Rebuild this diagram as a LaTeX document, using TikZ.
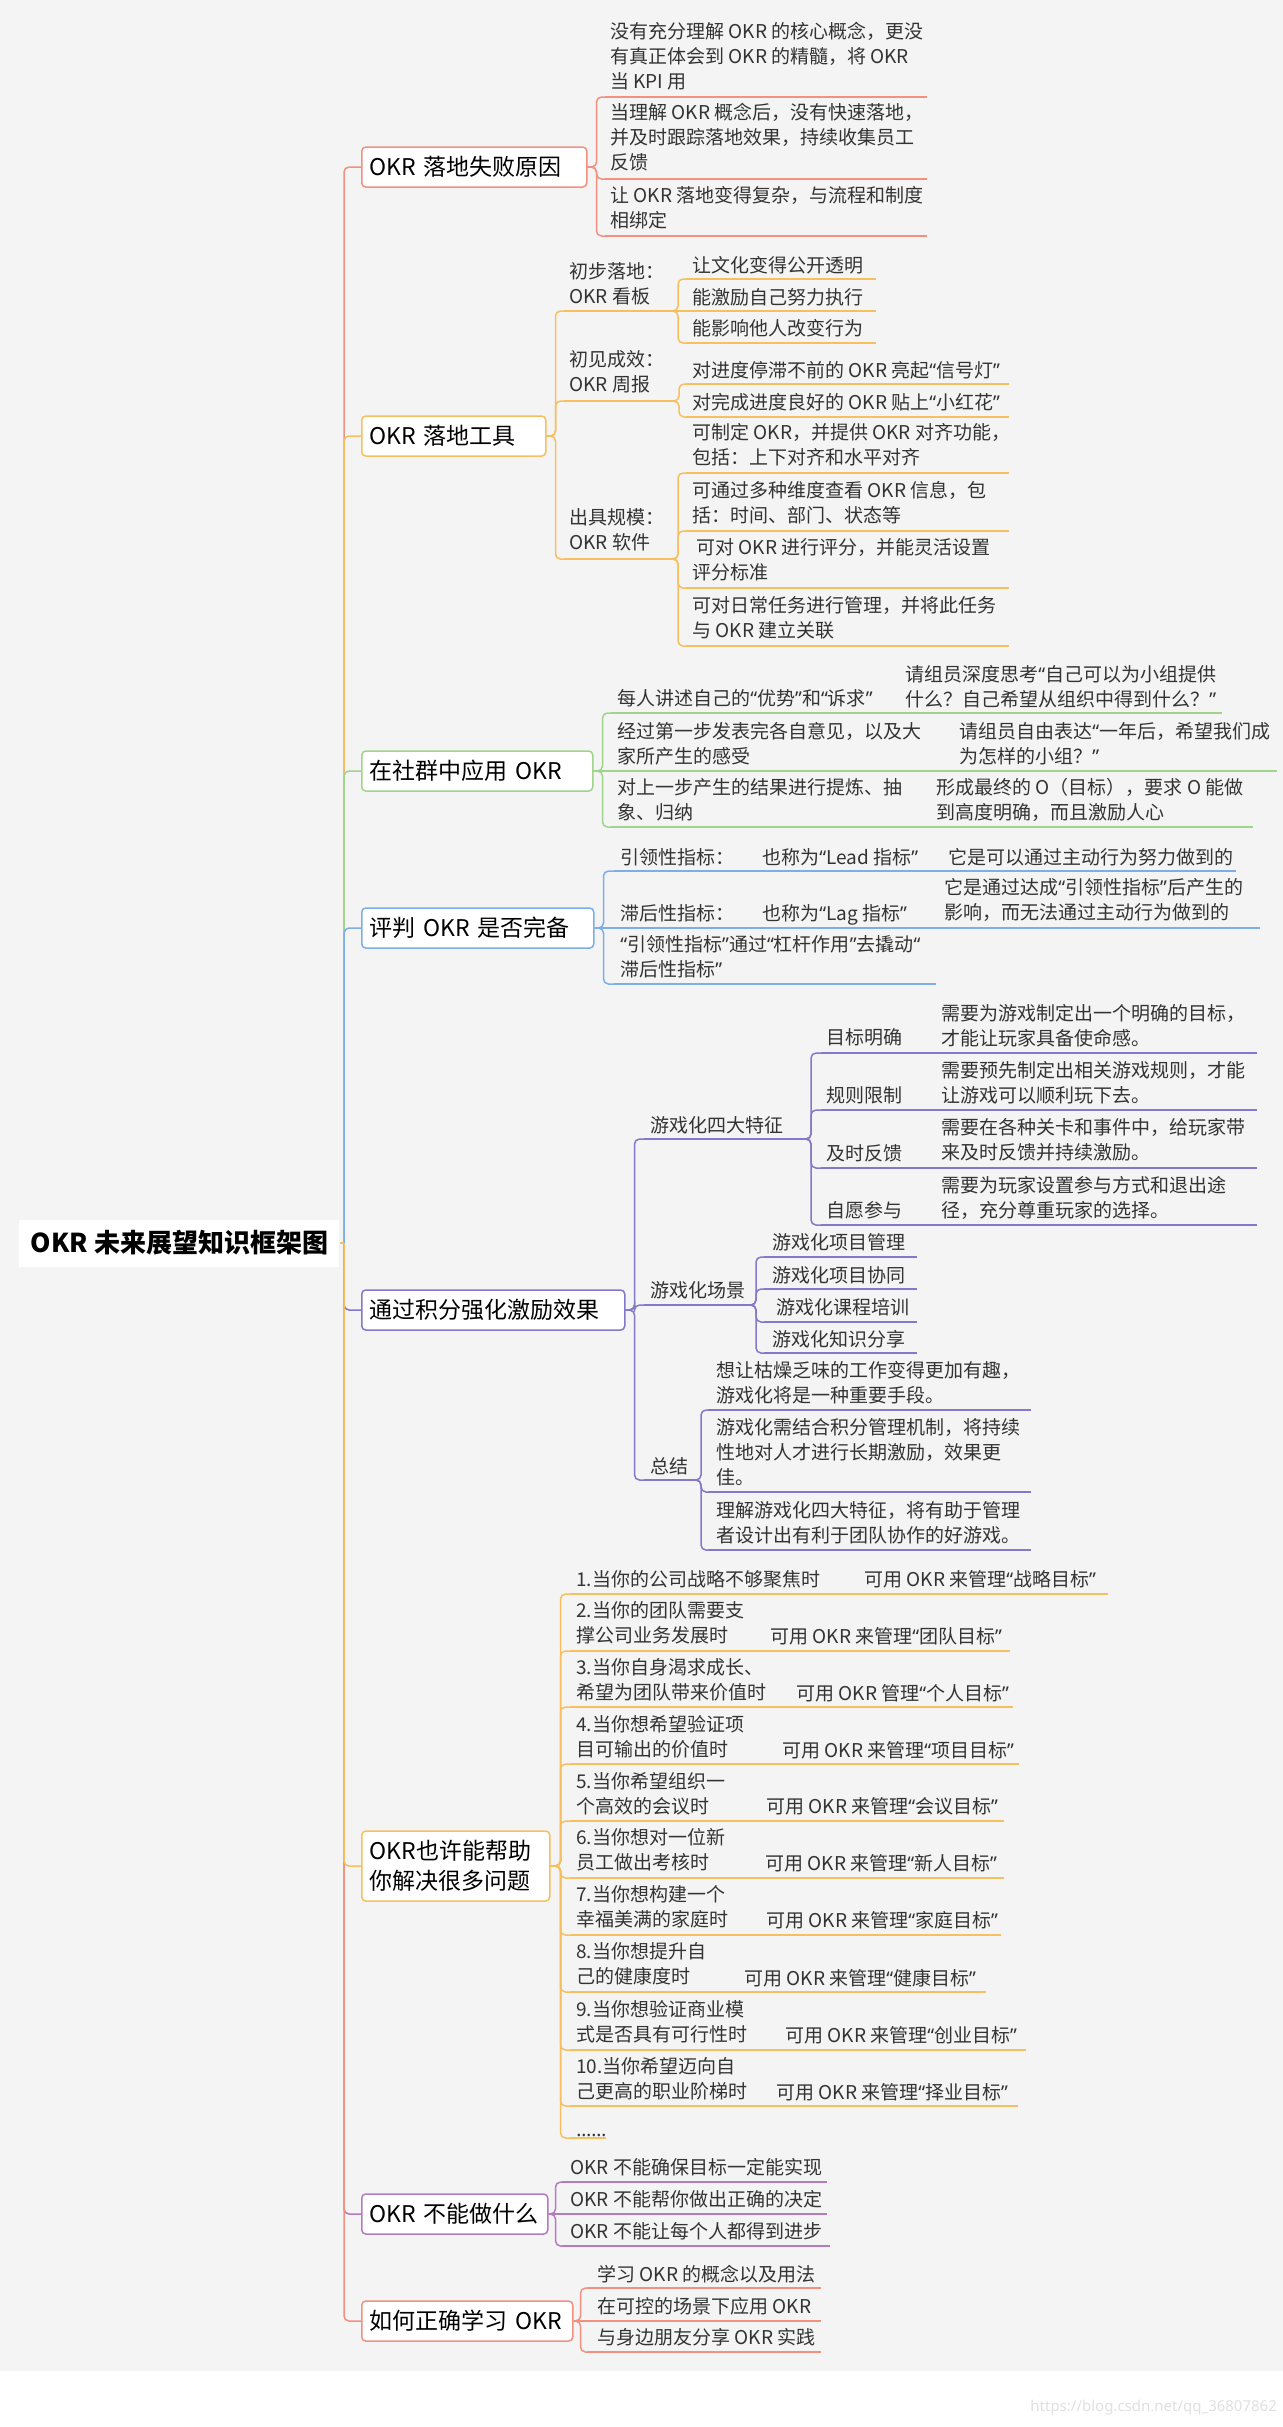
\documentclass[tikz,border=0pt]{standalone}
\usepackage{fontspec}
\setmainfont{Noto Sans CJK SC}
\newfontfamily\qfont{Noto Sans}
\newcommand\oq{{\qfont “}}
\newcommand\cq{{\qfont ”}}
\newcommand\moredots{{\qfont ……}}
\newcommand\leaffont{\fontsize{9.5}{12.5}\selectfont}
\newcommand\boxfont{\fontsize{11.5}{15}\selectfont}
\newcommand\rootfont{\fontsize{13}{16}\selectfont\bfseries}

\definecolor{bg}{HTML}{F4F4F4}
\definecolor{ink}{HTML}{333333}
\definecolor{cred}{HTML}{F3907F}
\definecolor{corange}{HTML}{F7BF5E}
\definecolor{cgreen}{HTML}{9FD48A}
\definecolor{cblue}{HTML}{7DAEE8}
\definecolor{cpurple}{HTML}{8478C8}
\definecolor{corchid}{HTML}{B47CC0}

\tikzset{
  txt/.style={anchor=north west, inner sep=0pt, align=left, yshift=5.15pt, font=\leaffont, text=ink, execute at begin node=\strut},
  topic/.style={draw=#1, fill=white, rounded corners=2pt, line width=0.75pt, anchor=west, minimum height=20pt, inner xsep=4pt, inner ysep=0pt, align=left, font=\boxfont, text=black},
  rootbox/.style={fill=white, anchor=west, minimum width=160pt, minimum height=23.5pt, inner sep=0pt, font=\rootfont, text=black},
  link/.style={draw=#1, line width=0.75pt, rounded corners=2.5pt},
  uline/.style={draw=#1, line width=0.75pt},
}

\begin{document}
\begin{tikzpicture}[x=0.5pt,y=-0.5pt]
        \useasboundingbox (0,0) rectangle (1283,2427);
        \fill[white] (0,0) rectangle (1283,2427);
        \fill[bg] (0,0) rectangle (1283,2371);

        \node[rootbox] (root) at (19,1243) {OKR 未来展望知识框架图};
        \coordinate (spine) at (344,1243);

        \node[topic=cred, text width=104.5pt] (fail) at (361,167) {OKR 落地失败原因};
        \node[topic=corange, text width=84pt] (tool) at (361,436) {OKR 落地工具};
        \node[topic=cgreen, text width=107.5pt] (comm) at (361,771) {在社群中应用 OKR};
        \node[topic=cblue, text width=108pt] (judge) at (361,928) {评判 OKR 是否完备};
        \node[topic=cpurple, text width=123.5pt] (game) at (361,1310) {通过积分强化激励效果};
        \node[topic=corange, text width=86pt, minimum height=35pt] (help) at (361,1866) {OKR也许能帮助\\你解决很多问题};
        \node[topic=corchid, text width=88pt, inner xsep=2.5pt] (cannot) at (361,2214) {\hspace{1.5pt}OKR 不能做什么};
        \node[topic=cred, text width=97.5pt] (learn) at (361,2321) {如何正确学习 OKR};

        \draw[link=cred] (spine) |- (fail.west);
        \draw[link=corange] (spine) |- (tool.west);
        \draw[link=cgreen] (spine) |- (comm.west);
        \draw[link=cblue] (spine) |- (judge.west);
        \draw[link=cpurple] (spine) |- (game.west);
        \draw[link=corchid] (spine) |- (cannot.west);
        \draw[link=cred] (spine) |- (learn.west);
        \draw[link=corange] (spine) |- (help.west);
        \draw[link=corange] (root.east) -- (spine);

        \coordinate (f1) at (605,97);
        \coordinate (f2) at (605,179);
        \coordinate (f3) at (605,236);
        \node[txt] (f1t) at (610,32) {没有充分理解 OKR 的核心概念，更没\\有真正体会到 OKR 的精髓，将 OKR\\当 KPI 用};
        \node[txt] (f2t) at (610,113) {当理解 OKR 概念后，没有快速落地，\\并及时跟踪落地效果，持续收集员工\\反馈};
        \node[txt] (f3t) at (610,196) {让 OKR 落地变得复杂，与流程和制度\\相绑定};
        \draw[uline=cred] (f1) -- ++(322,0);
        \draw[uline=cred] (f2) -- ++(322,0);
        \draw[uline=cred] (f3) -- ++(322,0);
        \draw[link=cred] (fail.east) -- ++(9,0) |- (f1);
        \draw[link=cred] (fail.east) -- ++(9,0) |- (f2);
        \draw[link=cred] (fail.east) -- ++(9,0) |- (f3);

        \coordinate (t1) at (564,311);
        \coordinate (t2) at (564,401);
        \coordinate (t3) at (564,559);
        \coordinate (t1e) at (671,311);
        \coordinate (t2e) at (674,401);
        \coordinate (t3e) at (671,559);
        \node[txt] (t1t) at (569,272) {初步落地：\\OKR 看板};
        \node[txt] (t2t) at (569,360) {初见成效：\\OKR 周报};
        \node[txt] (t3t) at (569,518) {出具规模：\\OKR 软件};
        \draw[uline=corange] (t1) -- (t1e);
        \draw[uline=corange] (t2) -- (t2e);
        \draw[uline=corange] (t3) -- (t3e);
        \draw[link=corange] (tool.east) -- ++(9,0) |- (t1);
        \draw[link=corange] (tool.east) -- ++(9,0) |- (t2);
        \draw[link=corange] (tool.east) -- ++(9,0) |- (t3);

        \coordinate (k1) at (686,279);
        \coordinate (k2) at (686,311);
        \coordinate (k3) at (686,343);
        \node[txt] (k1t) at (692,265) {让文化变得公开透明};
        \node[txt] (k2t) at (692,297) {能激励自己努力执行};
        \node[txt] (k3t) at (692,328) {能影响他人改变行为};
        \draw[uline=corange] (k1) -- ++(190,0);
        \draw[uline=corange] (k2) -- ++(190,0);
        \draw[uline=corange] (k3) -- ++(190,0);
        \draw[link=corange] (t1e) -- ++(7,0) |- (k1);
        \draw[link=corange] (t1e) -- (k2);
        \draw[link=corange] (t1e) -- ++(7,0) |- (k3);

        \coordinate (w1) at (686,384);
        \coordinate (w2) at (686,417);
        \node[txt] (w1t) at (692,370) {对进度停滞不前的 OKR 亮起\oq{}信号灯\cq{}};
        \node[txt] (w2t) at (692,402) {对完成进度良好的 OKR 贴上\oq{}小红花\cq{}};
        \draw[uline=corange] (w1) -- ++(323,0);
        \draw[uline=corange] (w2) -- ++(323,0);
        \draw[link=corange] (t2e) -- ++(5,0) |- (w1);
        \draw[link=corange] (t2e) -- ++(5,0) |- (w2);

        \coordinate (s1) at (686,473);
        \coordinate (s2) at (686,531);
        \coordinate (s3) at (686,588);
        \coordinate (s4) at (686,646);
        \node[txt] (s1t) at (692,433) {可制定 OKR，并提供 OKR 对齐功能，\\包括：上下对齐和水平对齐};
        \node[txt] (s2t) at (692,491) {可通过多种维度查看 OKR 信息，包\\括：时间、部门、状态等};
        \node[txt] (s3t) at (692,548) {\hspace{2pt}可对 OKR 进行评分，并能灵活设置\\评分标准};
        \node[txt] (s4t) at (692,606) {可对日常任务进行管理，并将此任务\\与 OKR 建立关联};
        \draw[uline=corange] (s1) -- ++(323,0);
        \draw[uline=corange] (s2) -- ++(323,0);
        \draw[uline=corange] (s3) -- ++(323,0);
        \draw[uline=corange] (s4) -- ++(323,0);
        \draw[link=corange] (t3e) -- ++(7,0) |- (s1);
        \draw[link=corange] (t3e) -- ++(7,0) |- (s2);
        \draw[link=corange] (t3e) -- ++(7,0) |- (s3);
        \draw[link=corange] (t3e) -- ++(7,0) |- (s4);

        \coordinate (c1) at (611,713);
        \coordinate (c2) at (611,771);
        \coordinate (c3) at (611,827);
        \node[txt] (c1t) at (617,698) {每人讲述自己的\oq{}优势\cq{}和\oq{}诉求\cq{}};
        \node[txt] (c1r) at (905,675) {请组员深度思考\oq{}自己可以为小组提供\\什么？自己希望从组织中得到什么？\cq{}};
        \node[txt] (c2t) at (617,732) {经过第一步发表完各自意见，以及大\\家所产生的感受};
        \node[txt] (c2r) at (959,732) {请组员自由表达\oq{}一年后，希望我们成\\为怎样的小组？\cq{}};
        \node[txt] (c3t) at (617,788) {对上一步产生的结果进行提炼、抽\\象、归纳};
        \node[txt] (c3r) at (936,788) {形成最终的 O（目标），要求 O 能做\\到高度明确，而且激励人心};
        \draw[uline=cgreen] (c1) -- (1222,713);
        \draw[uline=cgreen] (c2) -- (1277,771);
        \draw[uline=cgreen] (c3) -- (1253,827);
        \draw[link=cgreen] (comm.east) -- ++(9,0) |- (c1);
        \draw[link=cgreen] (comm.east) -- (c2);
        \draw[link=cgreen] (comm.east) -- ++(9,0) |- (c3);

        \coordinate (j1) at (614,871);
        \coordinate (j2) at (614,928);
        \coordinate (j3) at (614,984);
        \node[txt] (j1a) at (620,857) {引领性指标：};
        \node[txt] (j1b) at (762,857) {也称为\oq{}Lead 指标\cq{}};
        \node[txt] (j1c) at (948,857) {它是可以通过主动行为努力做到的};
        \node[txt] (j2a) at (620,913) {滞后性指标：};
        \node[txt] (j2b) at (762,913) {也称为\oq{}Lag 指标\cq{}};
        \node[txt] (j2c) at (944,888) {它是通过达成\oq{}引领性指标\cq{}后产生的\\影响，而无法通过主动行为做到的};
        \node[txt] (j3t) at (620,945) {\oq{}引领性指标\cq{}通过\oq{}杠杆作用\cq{}去撬动\oq{}\\滞后性指标\cq{}};
        \draw[uline=cblue] (j1) -- (1236,871);
        \draw[uline=cblue] (j2) -- (1260,928);
        \draw[uline=cblue] (j3) -- (936,984);
        \draw[link=cblue] (judge.east) -- ++(9,0) |- (j1);
        \draw[link=cblue] (judge.east) -- (j2);
        \draw[link=cblue] (judge.east) -- ++(9,0) |- (j3);

        \coordinate (g1) at (644,1139);
        \coordinate (g2) at (644,1305);
        \coordinate (g3) at (644,1480);
        \coordinate (g1e) at (803,1139);
        \coordinate (g2e) at (751,1305);
        \coordinate (g3e) at (695,1480);
        \node[txt] (g1t) at (650,1125) {游戏化四大特征};
        \node[txt] (g2t) at (650,1290) {游戏化场景};
        \node[txt] (g3t) at (650,1466) {总结};
        \draw[uline=cpurple] (g1) -- (g1e);
        \draw[uline=cpurple] (g2) -- (g2e);
        \draw[uline=cpurple] (g3) -- (g3e);
        \draw[link=cpurple] (game.east) -- ++(9,0) |- (g1);
        \draw[link=cpurple] (game.east) -- ++(9,0) |- (g2);
        \draw[link=cpurple] (game.east) -- ++(9,0) |- (g3);

        \coordinate (a1) at (821,1053);
        \coordinate (a2) at (821,1110);
        \coordinate (a3) at (821,1168);
        \coordinate (a4) at (821,1225);
        \node[txt] (a1t) at (826,1037) {目标明确};
        \node[txt] (a1r) at (941,1014) {需要为游戏制定出一个明确的目标，\\才能让玩家具备使命感。};
        \node[txt] (a2t) at (826,1095) {规则限制};
        \node[txt] (a2r) at (941,1071) {需要预先制定出相关游戏规则，才能\\让游戏可以顺利玩下去。};
        \node[txt] (a3t) at (826,1153) {及时反馈};
        \node[txt] (a3r) at (941,1128) {需要在各种关卡和事件中，给玩家带\\来及时反馈并持续激励。};
        \node[txt] (a4t) at (826,1210) {自愿参与};
        \node[txt] (a4r) at (941,1186) {需要为玩家设置参与方式和退出途\\径，充分尊重玩家的选择。};
        \draw[uline=cpurple] (a1) -- ++(436,0);
        \draw[uline=cpurple] (a2) -- ++(436,0);
        \draw[uline=cpurple] (a3) -- ++(436,0);
        \draw[uline=cpurple] (a4) -- ++(436,0);
        \draw[link=cpurple] (g1e) -- ++(8,0) |- (a1);
        \draw[link=cpurple] (g1e) -- ++(8,0) |- (a2);
        \draw[link=cpurple] (g1e) -- ++(8,0) |- (a3);
        \draw[link=cpurple] (g1e) -- ++(8,0) |- (a4);

        \coordinate (b1) at (764,1257);
        \coordinate (b2) at (764,1289);
        \coordinate (b3) at (764,1322);
        \coordinate (b4) at (764,1353);
        \node[txt] (b1t) at (772,1242) {游戏化项目管理};
        \node[txt] (b2t) at (772,1275) {游戏化项目协同};
        \node[txt] (b3t) at (772,1307) {\hspace{2pt}游戏化课程培训};
        \node[txt] (b4t) at (772,1339) {游戏化知识分享};
        \draw[uline=cpurple] (b1) -- ++(153,0);
        \draw[uline=cpurple] (b2) -- ++(153,0);
        \draw[uline=cpurple] (b3) -- ++(153,0);
        \draw[uline=cpurple] (b4) -- ++(153,0);
        \draw[link=cpurple] (g2e) -- ++(5,0) |- (b1);
        \draw[link=cpurple] (g2e) -- ++(5,0) |- (b2);
        \draw[link=cpurple] (g2e) -- ++(5,0) |- (b3);
        \draw[link=cpurple] (g2e) -- ++(5,0) |- (b4);

        \coordinate (d1) at (708,1410);
        \coordinate (d2) at (708,1492);
        \coordinate (d3) at (708,1550);
        \node[txt] (d1t) at (716,1371) {想让枯燥乏味的工作变得更加有趣，\\游戏化将是一种重要手段。};
        \node[txt] (d2t) at (716,1428) {游戏化需结合积分管理机制，将持续\\性地对人才进行长期激励，效果更\\佳。};
        \node[txt] (d3t) at (716,1511) {理解游戏化四大特征，将有助于管理\\者设计出有利于团队协作的好游戏。};
        \draw[uline=cpurple] (d1) -- ++(323,0);
        \draw[uline=cpurple] (d2) -- ++(323,0);
        \draw[uline=cpurple] (d3) -- ++(323,0);
        \draw[link=cpurple] (g3e) -- ++(6,0) |- (d1);
        \draw[link=cpurple] (g3e) -- ++(6,0) |- (d2);
        \draw[link=cpurple] (g3e) -- ++(6,0) |- (d3);

        \coordinate (h1) at (570,1594);
        \coordinate (h2) at (570,1651);
        \coordinate (h3) at (570,1707);
        \coordinate (h4) at (570,1764);
        \coordinate (h5) at (570,1821);
        \coordinate (h6) at (570,1878);
        \coordinate (h7) at (570,1935);
        \coordinate (h8) at (570,1992);
        \coordinate (h9) at (570,2050);
        \coordinate (h10) at (570,2106);
        \coordinate (h11) at (570,2138);
        \node[txt] (h1t) at (576,1579) {1.当你的公司战略不够聚焦时};
        \node[txt] (h1r) at (864,1579) {可用 OKR 来管理\oq{}战略目标\cq{}};
        \node[txt] (h2t) at (576,1611) {2.当你的团队需要支\\撑公司业务发展时};
        \node[txt] (h2r) at (770,1636) {可用 OKR 来管理\oq{}团队目标\cq{}};
        \node[txt] (h3t) at (576,1668) {3.当你自身渴求成长、\\希望为团队带来价值时};
        \node[txt] (h3r) at (796,1693) {可用 OKR 管理\oq{}个人目标\cq{}};
        \node[txt] (h4t) at (576,1725) {4.当你想希望验证项\\目可输出的价值时};
        \node[txt] (h4r) at (782,1750) {可用 OKR 来管理\oq{}项目目标\cq{}};
        \node[txt] (h5t) at (576,1782) {5.当你希望组织一\\个高效的会议时};
        \node[txt] (h5r) at (766,1806) {可用 OKR 来管理\oq{}会议目标\cq{}};
        \node[txt] (h6t) at (576,1838) {6.当你想对一位新\\员工做出考核时};
        \node[txt] (h6r) at (765,1863) {可用 OKR 来管理\oq{}新人目标\cq{}};
        \node[txt] (h7t) at (576,1895) {7.当你想构建一个\\幸福美满的家庭时};
        \node[txt] (h7r) at (766,1920) {可用 OKR 来管理\oq{}家庭目标\cq{}};
        \node[txt] (h8t) at (576,1952) {8.当你想提升自\\己的健康度时};
        \node[txt] (h8r) at (744,1978) {可用 OKR 来管理\oq{}健康目标\cq{}};
        \node[txt] (h9t) at (576,2010) {9.当你想验证商业模\\式是否具有可行性时};
        \node[txt] (h9r) at (785,2035) {可用 OKR 来管理\oq{}创业目标\cq{}};
        \node[txt] (h10t) at (576,2067) {10.当你希望迈向自\\己更高的职业阶梯时};
        \node[txt] (h10r) at (776,2092) {可用 OKR 来管理\oq{}择业目标\cq{}};
        \node[txt] (h11t) at (576,2129) {\moredots};
        \draw[uline=corange] (h1) -- (1108,1594);
        \draw[uline=corange] (h2) -- (1010,1651);
        \draw[uline=corange] (h3) -- (1013,1707);
        \draw[uline=corange] (h4) -- (1019,1764);
        \draw[uline=corange] (h5) -- (1004,1821);
        \draw[uline=corange] (h6) -- (1004,1878);
        \draw[uline=corange] (h7) -- (1001,1935);
        \draw[uline=corange] (h8) -- (986,1992);
        \draw[uline=corange] (h9) -- (1026,2050);
        \draw[uline=corange] (h10) -- (1018,2106);
        \draw[uline=corange] (h11) -- (606,2138);
        \foreach \i in {1,...,11}
                \draw[link=corange] (help.east) -- ++(10,0) |- (h\i);

        \coordinate (n1) at (562,2182);
        \coordinate (n2) at (562,2214);
        \coordinate (n3) at (562,2246);
        \node[txt] (n1t) at (570,2167) {OKR 不能确保目标一定能实现};
        \node[txt] (n2t) at (570,2199) {OKR 不能帮你做出正确的决定};
        \node[txt] (n3t) at (570,2231) {OKR 不能让每个人都得到进步};
        \draw[uline=corchid] (n1) -- (827,2182);
        \draw[uline=corchid] (n2) -- (827,2214);
        \draw[uline=corchid] (n3) -- (830,2246);
        \draw[link=corchid] (cannot.east) -- ++(7,0) |- (n1);
        \draw[link=corchid] (cannot.east) -- (n2);
        \draw[link=corchid] (cannot.east) -- ++(7,0) |- (n3);

        \coordinate (l1) at (587,2288);
        \coordinate (l2) at (587,2321);
        \coordinate (l3) at (587,2352);
        \node[txt] (l1t) at (597,2274) {学习 OKR 的概念以及用法};
        \node[txt] (l2t) at (597,2306) {在可控的场景下应用 OKR};
        \node[txt] (l3t) at (597,2337) {与身边朋友分享 OKR 实践};
        \draw[uline=cred] (l1) -- ++(234,0);
        \draw[uline=cred] (l2) -- ++(234,0);
        \draw[uline=cred] (l3) -- ++(234,0);
        \draw[link=cred] (learn.east) -- ++(7,0) |- (l1);
        \draw[link=cred] (learn.east) -- (l2);
        \draw[link=cred] (learn.east) -- ++(7,0) |- (l3);

        \node[anchor=west, inner sep=0pt, font=\qfont\fontsize{7.5}{9}\selectfont, text=black!12] (mark) at (1030,2408) {https://blog.csdn.net/qq\_36807862};
\end{tikzpicture}
\end{document}
